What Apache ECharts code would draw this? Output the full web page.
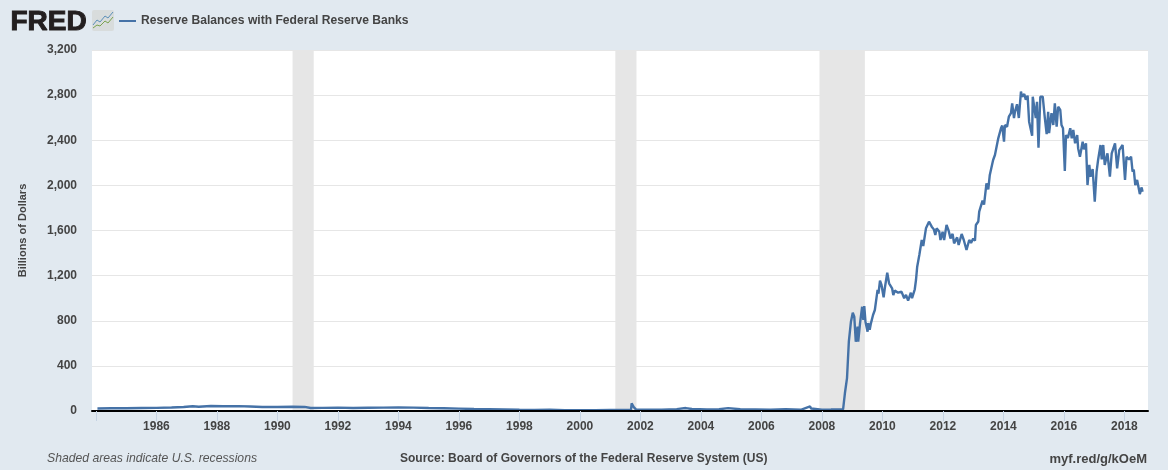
<!DOCTYPE html>
<html>
<head>
<meta charset="utf-8">
<title>Reserve Balances with Federal Reserve Banks</title>
<script src="https://cdn.jsdelivr.net/npm/echarts@6/dist/echarts.min.js"></script>
<style>
  html, body { margin: 0; padding: 0; background: #e1e9f0; }
  #chart { width: 1168px; height: 470px; }
</style>
</head>
<body>
<div id="chart"></div>
<script>
// decimal years and billions of dollars
const years = [
  1984.05, 1984.5, 1985.0, 1985.5, 1986.0, 1986.5, 1986.9, 1987.2, 1987.4, 1987.8, 1988.2, 1988.7, 1989.1, 1989.5,
  1990.0, 1990.5, 1990.9, 1991.1, 1991.5, 1992.0, 1992.5, 1993.0, 1993.5, 1994.0, 1994.5, 1995.0, 1995.5, 1996.0,
  1996.5, 1997.0, 1997.5, 1998.0, 1998.5, 1999.0, 1999.5, 2000.0, 2000.5, 2001.0, 2001.5, 2001.69, 2001.71, 2001.74,
  2001.78, 2001.85, 2002.2, 2002.7, 2003.2, 2003.5, 2003.7, 2004.2, 2004.6, 2004.9, 2005.3, 2005.8, 2006.3, 2006.8,
  2007.3, 2007.61, 2007.64, 2007.7, 2008.0, 2008.3, 2008.70,
  2008.73, 2008.76, 2008.79, 2008.83, 2008.86, 2008.89, 2008.93, 2008.96, 2009.02, 2009.07, 2009.12, 2009.18, 2009.20,
  2009.26, 2009.33, 2009.37, 2009.40, 2009.44, 2009.51, 2009.53, 2009.58, 2009.62, 2009.69, 2009.75, 2009.84, 2009.87,
  2009.92, 2009.97, 2010.04, 2010.08, 2010.16, 2010.22, 2010.32, 2010.36, 2010.41, 2010.52, 2010.63, 2010.72, 2010.78,
  2010.85, 2010.94, 2010.98, 2011.07, 2011.11, 2011.15, 2011.22, 2011.30, 2011.35, 2011.44, 2011.54, 2011.63, 2011.70,
  2011.75, 2011.79, 2011.88, 2011.92, 2011.99, 2012.04, 2012.12, 2012.19, 2012.25, 2012.32, 2012.37, 2012.47, 2012.52,
  2012.62, 2012.69, 2012.78, 2012.87, 2012.93, 2013.00, 2013.06, 2013.09, 2013.17, 2013.20, 2013.26, 2013.31, 2013.36,
  2013.44, 2013.50, 2013.55, 2013.66, 2013.72, 2013.83, 2013.92, 2013.96, 2014.02, 2014.05, 2014.12, 2014.18, 2014.25,
  2014.29, 2014.35, 2014.38, 2014.45, 2014.51, 2014.58, 2014.62, 2014.69, 2014.74, 2014.80, 2014.85, 2014.95, 2014.97,
  2015.03, 2015.07, 2015.11, 2015.16, 2015.22, 2015.30, 2015.37, 2015.43, 2015.48, 2015.51, 2015.59, 2015.65, 2015.70,
  2015.76, 2015.81, 2015.88, 2015.92, 2015.97, 2016.03, 2016.07, 2016.13, 2016.21, 2016.26, 2016.31, 2016.37, 2016.44,
  2016.47, 2016.53, 2016.62, 2016.66, 2016.73, 2016.78, 2016.84, 2016.88, 2016.95, 2017.02, 2017.08, 2017.13, 2017.21,
  2017.25, 2017.30, 2017.35, 2017.44, 2017.52, 2017.58, 2017.69, 2017.76, 2017.83, 2017.94, 2018.02, 2018.07, 2018.15,
  2018.22, 2018.27, 2018.31, 2018.36, 2018.42, 2018.47, 2018.51, 2018.57, 2018.60
]
const balances = [
  22, 24, 24, 27, 28, 31, 36, 42, 38, 44, 42, 43, 40, 36,
  36, 38, 36, 27, 28, 30, 26, 29, 30, 32, 30, 26, 24, 21,
  18, 16, 14, 11, 10, 12, 8, 8, 7, 9, 9, 12, 68, 62,
  34, 14, 12, 11, 17, 26, 18, 14, 16, 25, 15, 14, 12, 15,
  11, 40, 22, 13, 12, 13, 15,
  24, 157, 140, 292, 290, 614, 629, 792, 871, 836, 614, 748, 614,
  777, 924, 807, 930, 792, 703, 780, 720, 777, 851, 895, 1073, 1040,
  1155, 1117, 1008, 1090, 1226, 1132, 1088, 1028, 1067, 1049, 1058, 999, 1030,
  978, 1049, 1000, 1079, 1161, 1279, 1383, 1516, 1463, 1619, 1678, 1634, 1610,
  1560, 1619, 1590, 1516, 1589, 1516, 1649, 1598, 1530, 1570, 1486, 1539, 1471,
  1569, 1516, 1427, 1516, 1490, 1530, 1510, 1649, 1680, 1767, 1750, 1864, 1830,
  2018, 1965, 2092, 2225, 2269, 2417, 2506, 2530, 2387, 2535, 2520, 2609, 2640,
  2727, 2597, 2650, 2719, 2597, 2831, 2786, 2809, 2760, 2795, 2565, 2440, 2786,
  2770, 2597, 2740, 2334, 2786, 2786, 2597, 2455, 2653, 2464, 2641, 2535, 2727,
  2520, 2697, 2668, 2535, 2506, 2127, 2446, 2420, 2506, 2417, 2491, 2373, 2446,
  2330, 2254, 2387, 2320, 2373, 2003, 2181, 2077, 2145, 1855, 2121, 2225, 2358,
  2230, 2358, 2181, 2284, 2077, 2284, 2373, 2151, 2313, 2358, 2048, 2254, 2230,
  2254, 2121, 2140, 2003, 2048, 2040, 1923, 1982, 1944
]
const tickYears = [1984, 1986, 1988, 1990, 1992, 1994, 1996, 1998, 2000, 2002, 2004, 2006, 2008, 2010, 2012, 2014, 2016, 2018]
const labelYears = [1986, 1988, 1990, 1992, 1994, 1996, 1998, 2000, 2002, 2004, 2006, 2008, 2010, 2012, 2014, 2016, 2018]
const recessions = [[1990.5, 1991.2], [2001.17, 2001.87], [2007.92, 2009.42]]

const seriesName = 'Reserve Balances with Federal Reserve Banks'
const textColor = '#444'
const uiFont = '"Liberation Sans", Arial, sans-serif'

const chart = echarts.init(document.getElementById('chart'))
chart.setOption({
  backgroundColor: '#e1e9f0',
  animation: false,
  textStyle: { fontFamily: uiFont },
  grid: {
    show: true,
    left: 92,
    right: 20,
    top: 50,
    bottom: 59,
    backgroundColor: '#fff',
    borderWidth: 0
  },
  legend: {
    left: 114,
    top: 10,
    icon: 'rect',
    itemWidth: 17,
    itemHeight: 2,
    itemGap: 5,
    textStyle: { color: textColor, fontSize: 12.1, fontWeight: 'bold', fontFamily: uiFont },
    data: [seriesName]
  },
  xAxis: {
    type: 'value',
    min: 1983.87,
    max: 2018.78,
    z: 5,
    splitLine: { show: false },
    axisLine: { show: true, onZero: false, lineStyle: { color: '#000', width: 2 } },
    axisTick: { show: true, customValues: tickYears, length: 10, lineStyle: { color: '#c5d3e3', width: 1 } },
    axisLabel: {
      customValues: labelYears,
      color: textColor,
      fontSize: 12,
      fontWeight: 'bold',
      margin: 10,
      formatter: (v) => String(v)
    }
  },
  yAxis: {
    type: 'value',
    min: 0,
    max: 3200,
    interval: 400,
    name: 'Billions of Dollars',
    nameLocation: 'middle',
    nameGap: 64,
    nameTextStyle: { color: textColor, fontSize: 11, fontWeight: 'bold' },
    axisLine: { show: false },
    axisTick: { show: false },
    splitLine: { lineStyle: { color: '#e6e6e6', width: 1 } },
    axisLabel: {
      color: textColor,
      fontSize: 12,
      fontWeight: 'bold',
      margin: 15,
      padding: [5, 0, 0, 0],
      formatter: (v) => v.toLocaleString('en-US')
    }
  },
  series: [{
    type: 'line',
    name: seriesName,
    data: years.map((y, i) => [y, balances[i]]),
    showSymbol: false,
    symbol: 'none',
    color: '#4572a7',
    lineStyle: { color: '#4572a7', width: 2.4 },
    markArea: {
      silent: true,
      itemStyle: { color: '#e6e6e6', opacity: 1 },
      data: recessions.map((r) => [{ xAxis: r[0] }, { xAxis: r[1] }])
    }
  }],
  graphic: [
    // FRED mark
    { type: 'text', left: 10, top: 8, style: { text: 'FRED', font: '900 28px ' + uiFont, fill: '#231f20', stroke: '#231f20', lineWidth: 1 } },
    { type: 'rect', shape: { x: 92, y: 10, width: 22, height: 21, r: 2 }, style: { fill: '#d8dcdc' } },
    { type: 'polyline', shape: { points: [[93, 25], [97, 20], [100, 22], [105, 16], [108, 18], [113, 12]] }, style: { stroke: '#5b8fb9', lineWidth: 1, fill: 'none' } },
    { type: 'polyline', shape: { points: [[93, 28], [97, 25], [100, 26], [105, 21], [108, 23], [113, 17]] }, style: { stroke: '#7aa350', lineWidth: 1, fill: 'none' } },
    // footer
    { type: 'text', left: 47, top: 453, style: { text: 'Shaded areas indicate U.S. recessions', font: 'italic 12.2px ' + uiFont, fill: '#555' } },
    { type: 'text', left: 400, top: 453, style: { text: 'Source: Board of Governors of the Federal Reserve System (US)', font: 'bold 12px ' + uiFont, fill: textColor } },
    { type: 'text', right: 21, top: 453, style: { text: 'myf.red/g/kOeM', font: 'bold 13px ' + uiFont, fill: textColor } }
  ]
})
</script>
</body>
</html>
